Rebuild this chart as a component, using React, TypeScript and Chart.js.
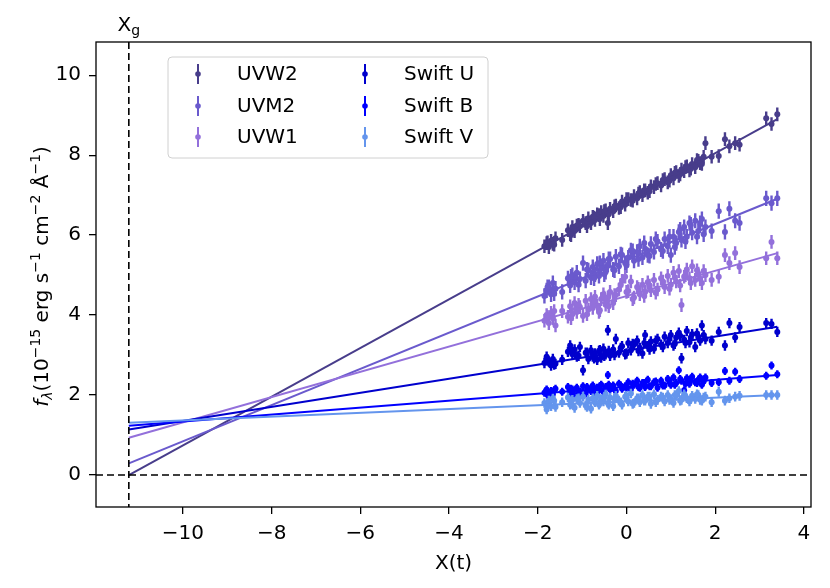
import React, { useEffect, useRef } from "react";
import { Chart, registerables } from "chart.js";

Chart.register(...registerables);

const FONT = "DejaVu Sans";

const bands = ["UVW2", "UVM2", "UVW1", "Swift U", "Swift B", "Swift V"];
const bandColors = ["#483D8B", "#6A5ACD", "#9370DB", "#0000CD", "#0000FF", "#6495ED"];

// observation epochs, X(t)
const xObs = [
  -1.85, -1.8, -1.75, -1.7, -1.66, -1.6, -1.45,
  -1.32, -1.27, -1.22, -1.17, -1.12, -1.05, -0.98, -0.92, -0.86, -0.8,
  -0.76, -0.71, -0.66, -0.62, -0.57, -0.52, -0.47, -0.42, -0.37, -0.3,
  -0.24, -0.17, -0.1, -0.03, 0.04, 0.1, 0.17, 0.24, 0.3, 0.36,
  0.42, 0.48, 0.55, 0.62, 0.7, 0.78, 0.86, 0.93, 1.0, 1.06,
  1.12, 1.18, 1.24, 1.3, 1.36, 1.42, 1.48, 1.55, 1.62, 1.7,
  1.78, 1.92, 2.08, 2.22, 2.32, 2.45, 2.55, 3.15, 3.27, 3.4,
];

const fluxW2 = [
  5.72, 5.8, 5.7, 5.86, 5.78, 5.92, 5.88,
  6.12, 6.02, 6.2, 6.1, 6.24, 6.22, 6.36, 6.3, 6.42, 6.3,
  6.46, 6.38, 6.52, 6.5, 6.58, 6.48, 6.62, 6.3, 6.66, 6.6,
  6.74, 6.68, 6.84, 6.76, 6.9, 6.88, 6.98, 6.92, 7.08, 7.0,
  7.12, 7.06, 7.22, 7.2, 7.3, 7.24, 7.4, 7.32, 7.5, 7.42,
  7.58, 7.48, 7.64, 7.6, 7.72, 7.62, 7.78, 7.7, 7.86, 7.78,
  8.3, 7.96, 7.98, 8.4, 8.22, 8.3, 8.26, 8.92, 8.78, 9.02,
];
const fluxM2 = [
  4.48, 4.62, 4.7, 4.52, 4.8, 4.66, 4.58,
  4.92, 4.74, 5.0, 4.82, 5.06, 4.9, 5.3, 4.86, 5.12, 4.94,
  5.2, 5.02, 5.28, 4.98, 5.18, 5.36, 5.08, 5.26, 5.4, 5.14,
  5.46, 5.22, 5.5, 5.3, 5.44, 5.62, 5.36, 5.58, 5.72, 5.44,
  5.66, 5.5, 5.78, 5.58, 5.84, 5.64, 5.9, 5.72, 5.5, 5.96,
  5.8, 6.08, 5.88, 6.2, 5.96, 6.3, 6.06, 6.36, 6.1, 6.4,
  6.2, 6.1, 6.6, 6.08, 6.66, 6.36, 6.3, 6.92, 6.8, 6.92,
];
const fluxW1 = [
  3.86, 4.0, 3.8, 4.06, 3.92, 3.74, 4.1,
  3.96, 4.22, 4.02, 4.3, 4.08, 4.2, 3.98, 4.36, 4.14, 4.4,
  4.18, 4.46, 4.24, 4.08, 4.4, 4.52, 4.26, 4.44, 4.58, 4.3,
  4.5, 4.64, 4.86, 4.96, 4.6, 4.84, 4.44, 4.7, 4.52, 4.76,
  4.58, 4.82, 4.62, 4.88, 4.64, 4.92, 4.7, 4.98, 4.76, 5.06,
  4.84, 5.1, 4.25, 4.96, 5.14, 4.92, 5.22, 4.88, 5.04, 4.8,
  5.0, 4.88, 4.96, 5.5, 5.3, 5.55, 5.2, 5.42, 5.83, 5.42,
];
const fluxU = [
  2.8, 2.96, 2.84, 2.74, 2.9, 2.78, 2.88,
  3.08, 3.24, 3.02, 3.14, 2.96, 3.2, 2.62, 3.06, 2.9, 3.12,
  2.96, 3.04, 2.88, 3.1, 2.94, 3.16, 3.02, 3.62, 2.98, 3.14,
  3.4, 3.06, 3.22, 3.02, 3.3, 3.12, 3.26, 3.36, 3.18, 3.04,
  3.5, 3.22, 3.34, 3.16, 3.4, 3.26, 3.46, 3.3, 3.5, 3.24,
  3.44, 3.56, 2.92, 3.38, 3.6, 3.32, 3.52, 3.2, 3.46, 3.74,
  3.4, 3.36, 3.58, 3.24, 3.8, 3.44, 3.7, 3.8, 3.78, 3.58,
];
const fluxB = [
  2.06, 2.14, 1.98, 2.1, 2.02, 2.16, 2.08,
  2.2, 2.04, 2.14, 2.0, 2.18, 2.08, 2.22, 2.04, 2.16, 2.1,
  2.24, 2.06, 2.18, 2.12, 2.26, 2.08, 2.2, 2.5, 2.14, 2.24,
  2.1, 2.28, 2.16, 2.22, 2.32, 2.14, 2.26, 2.36, 2.18, 2.3,
  2.2, 2.38, 2.22, 2.32, 2.18, 2.36, 2.24, 2.4, 2.26, 2.44,
  2.3, 2.62, 2.36, 2.12, 2.42, 2.28, 2.46, 2.32, 2.38, 2.26,
  2.44, 2.3, 2.32, 2.6, 2.36, 2.58, 2.4, 2.48, 2.74, 2.52,
];
const fluxV = [
  1.8, 1.64, 1.86, 1.72, 1.92, 1.7, 1.82,
  1.94, 1.76, 1.88, 1.68, 1.9, 1.8, 1.96, 1.74, 1.88, 1.66,
  1.92, 1.82, 1.98, 1.76, 1.9, 1.84, 2.02, 1.8, 1.94, 1.72,
  1.98, 1.86, 1.76, 1.96, 1.84, 2.04, 1.8, 1.92, 1.82, 2.0,
  1.86, 1.96, 1.78, 2.02, 1.88, 1.96, 1.84, 2.0, 1.9, 1.8,
  1.98, 2.1, 1.88, 2.02, 1.92, 1.84, 1.98, 1.9, 2.0, 1.86,
  1.96, 1.82, 2.08, 1.86, 1.92, 1.96, 1.98, 2.0, 2.0, 2.0,
];

// second batch of epochs inside the dense part of the light curve
const xObs2 = [
  -1.78, -1.63, -1.25, -1.08, -0.89, -0.73, -0.6, -0.5, -0.4, -0.27, -0.13, 0.0, 0.14,
  0.27, 0.4, 0.52, 0.66, 0.82, 0.97, 1.09, 1.21, 1.33, 1.45, 1.59, 1.66, 1.74,
];
const fluxW2b = [
  5.82, 5.76, 6.0, 6.26, 6.22, 6.44, 6.4, 6.6, 6.52, 6.72, 6.7, 6.9, 6.86,
  7.04, 7.12, 7.1, 7.28, 7.38, 7.36, 7.56, 7.52, 7.7, 7.66, 7.88, 7.8, 7.96,
];
const fluxM2b = [
  4.7, 4.54, 4.96, 4.76, 5.14, 4.92, 5.3, 5.02, 5.4, 5.12, 5.52, 5.24, 5.6,
  5.4, 5.8, 5.48, 5.9, 5.6, 5.96, 5.7, 6.14, 5.84, 6.26, 5.96, 6.3, 6.02,
];
const fluxW1b = [
  3.96, 4.1, 3.92, 4.26, 4.02, 4.34, 4.12, 4.44, 4.22, 4.5, 4.76, 4.58, 4.4,
  4.66, 4.48, 4.74, 4.56, 4.84, 4.66, 4.94, 4.74, 5.0, 4.8, 5.12, 4.9, 5.1,
];
const fluxUb = [
  2.86, 2.76, 3.14, 2.98, 3.06, 2.92, 3.12, 2.98, 3.1, 3.0, 3.18, 3.04, 3.28,
  3.1, 3.3, 3.14, 3.36, 3.2, 3.4, 3.28, 3.48, 3.3, 3.44, 3.54, 3.36, 3.5,
];
const fluxBb = [
  2.0, 2.12, 2.16, 2.04, 2.2, 2.1, 2.22, 2.12, 2.26, 2.14, 2.24, 2.18, 2.28,
  2.2, 2.3, 2.22, 2.34, 2.24, 2.36, 2.26, 2.4, 2.28, 2.4, 2.3, 2.44, 2.34,
];
const fluxVb = [
  1.72, 1.86, 1.78, 1.92, 1.7, 1.86, 1.8, 1.94, 1.76, 1.9, 1.82, 1.98, 1.78,
  1.92, 1.86, 1.96, 1.82, 1.94, 1.88, 2.0, 1.86, 1.96, 1.9, 2.02, 1.88, 1.94,
];

const bandFlux = [fluxW2, fluxM2, fluxW1, fluxU, fluxB, fluxV];
const bandFlux2 = [fluxW2b, fluxM2b, fluxW1b, fluxUb, fluxBb, fluxVb];
const bandErr = [0.17, 0.19, 0.17, 0.13, 0.1, 0.12];

// linear fits, from X_g to the last epoch
const xg = -11.22;
const fitEndX = 3.4;
const fitAtXg = [0.0, 0.29, 0.93, 1.14, 1.23, 1.31];
const fitAtEnd = [8.9, 6.91, 5.55, 3.71, 2.5, 2.0];

const xTicks = [-10, -8, -6, -4, -2, 0, 2, 4];
const yTicks = [0, 2, 4, 6, 8, 10];
const xRange = [-11.96, 4.16];
const yRange = [-0.8, 10.83];

const fmt = (v: number) => String(v).replace("-", "\u2212");

const errorBars = {
  id: "errorBars",
  beforeDatasetDraw(chart: any, args: any) {
    const ds = chart.data.datasets[args.index];
    if (ds.errY === undefined) return;
    const { ctx, scales } = chart;
    ctx.save();
    ctx.strokeStyle = ds.borderColor;
    ctx.lineWidth = 2.4;
    ctx.beginPath();
    ds.data.forEach((p: any) => {
      const px = scales.x.getPixelForValue(p.x);
      ctx.moveTo(px, scales.y.getPixelForValue(p.y - ds.errY));
      ctx.lineTo(px, scales.y.getPixelForValue(p.y + ds.errY));
    });
    ctx.stroke();
    ctx.restore();
  },
};

const refLines = {
  id: "refLines",
  afterDatasetsDraw(chart: any) {
    const { ctx, chartArea: a, scales } = chart;
    ctx.save();
    ctx.strokeStyle = "#000";
    ctx.lineWidth = 1.6;
    ctx.setLineDash([7, 4]);
    const px = scales.x.getPixelForValue(xg);
    const py = scales.y.getPixelForValue(0);
    ctx.beginPath();
    ctx.moveTo(px, a.top);
    ctx.lineTo(px, a.bottom);
    ctx.moveTo(a.left, py);
    ctx.lineTo(a.right, py);
    ctx.stroke();
    ctx.restore();
  },
};

type Seg = { t: string; size: number; dy: number; italic?: boolean };

function drawRich(ctx: CanvasRenderingContext2D, segs: Seg[], cx: number, baseY: number) {
  const font = (s: Seg) => `${s.italic ? "oblique " : ""}${s.size}px "${FONT}"`;
  let total = 0;
  segs.forEach((s) => {
    ctx.font = font(s);
    total += ctx.measureText(s.t).width;
  });
  let x = cx - total / 2;
  ctx.textBaseline = "alphabetic";
  ctx.textAlign = "left";
  segs.forEach((s) => {
    ctx.font = font(s);
    ctx.fillText(s.t, x, baseY + s.dy);
    x += ctx.measureText(s.t).width;
  });
}

const decorations = {
  id: "decorations",
  afterDraw(chart: any) {
    const { ctx, chartArea: a, scales } = chart;
    ctx.save();
    // frame
    ctx.strokeStyle = "#000";
    ctx.lineWidth = 1.3;
    ctx.strokeRect(a.left, a.top, a.right - a.left, a.bottom - a.top);
    ctx.fillStyle = "#000";

    // X_g label above the dashed line
    drawRich(
      ctx,
      [
        { t: "X", size: 20, dy: 0 },
        { t: "g", size: 14, dy: 4 },
      ],
      scales.x.getPixelForValue(xg),
      31
    );

    // x axis title
    drawRich(ctx, [{ t: "X(t)", size: 20, dy: 0 }], (a.left + a.right) / 2, 569);

    // y axis title
    ctx.save();
    ctx.translate(48, (a.top + a.bottom) / 2 + 2);
    ctx.rotate(-Math.PI / 2);
    drawRich(
      ctx,
      [
        { t: "f", size: 20, dy: 0, italic: true },
        { t: "\u03bb", size: 14, dy: 4, italic: true },
        { t: "(10", size: 20, dy: 0 },
        { t: "\u221215", size: 14, dy: -8 },
        { t: " erg s", size: 20, dy: 0 },
        { t: "\u22121", size: 14, dy: -8 },
        { t: " cm", size: 20, dy: 0 },
        { t: "\u22122", size: 14, dy: -8 },
        { t: " \u00c5", size: 20, dy: 0 },
        { t: "\u22121", size: 14, dy: -8 },
        { t: ")", size: 20, dy: 0 },
      ],
      0,
      0
    );
    ctx.restore();

    // legend
    const bx = 168, by = 57, bw = 320, bh = 101;
    ctx.beginPath();
    ctx.roundRect(bx, by, bw, bh, 4);
    ctx.fillStyle = "rgba(255,255,255,0.8)";
    ctx.fill();
    ctx.strokeStyle = "#d0d0d0";
    ctx.lineWidth = 1;
    ctx.stroke();
    const markX = [198, 365];
    const textX = [237, 404];
    const rowY = [74, 106, 137];
    bands.forEach((name, i) => {
      const col = Math.floor(i / 3);
      const row = i % 3;
      const mx = markX[col];
      const my = rowY[row];
      ctx.strokeStyle = bandColors[i];
      ctx.lineWidth = 2;
      ctx.beginPath();
      ctx.moveTo(mx, my - 10);
      ctx.lineTo(mx, my + 10);
      ctx.stroke();
      ctx.fillStyle = bandColors[i];
      ctx.beginPath();
      ctx.arc(mx, my, 2.8, 0, Math.PI * 2);
      ctx.fill();
      ctx.fillStyle = "#000";
      ctx.font = `20px "${FONT}"`;
      ctx.textAlign = "left";
      ctx.textBaseline = "middle";
      ctx.fillText(name, textX[col], my + 1);
    });
    ctx.restore();
  },
};

export default function App() {
  const ref = useRef<HTMLCanvasElement>(null);

  useEffect(() => {
    document.body.style.margin = "0";
    const pointSets = bands.map((name, i) => ({
      label: name,
      data: [
        ...xObs.map((x, k) => ({ x, y: bandFlux[i][k] })),
        ...xObs2.map((x, k) => ({ x, y: bandFlux2[i][k] })),
      ],
      errY: bandErr[i],
      borderColor: bandColors[i],
      backgroundColor: bandColors[i],
      pointRadius: 3,
      pointBorderWidth: 0,
      showLine: false,
      order: 20 - i,
    }));
    const fitSets = bands.map((name, i) => ({
      label: name + " fit",
      data: [
        { x: xg, y: fitAtXg[i] },
        { x: fitEndX, y: fitAtEnd[i] },
      ],
      borderColor: bandColors[i],
      backgroundColor: bandColors[i],
      borderWidth: 2,
      pointRadius: 0,
      showLine: true,
      fill: false,
      order: 10 - i,
    }));

    const tickFont = { family: FONT, size: 20 };
    const chart = new Chart(ref.current!, {
      type: "scatter",
      data: { datasets: [...pointSets, ...fitSets] as any },
      plugins: [errorBars, refLines, decorations],
      options: {
        animation: false,
        responsive: false,
        events: [],
        layout: { padding: { left: 0, top: 42, right: 19, bottom: 0 } },
        plugins: { legend: { display: false }, tooltip: { enabled: false } },
        scales: {
          x: {
            type: "linear",
            min: xRange[0],
            max: xRange[1],
            afterBuildTicks: (s: any) => {
              s.ticks = xTicks.map((v) => ({ value: v }));
            },
            afterFit: (s: any) => {
              s.height = 81;
            },
            border: { display: false },
            grid: { drawOnChartArea: false, drawTicks: true, tickLength: 7, color: "#000", lineWidth: 1.3 },
            ticks: { font: tickFont, color: "#000", padding: 8, maxRotation: 0, callback: (v: any) => fmt(v) },
          },
          y: {
            type: "linear",
            min: yRange[0],
            max: yRange[1],
            afterBuildTicks: (s: any) => {
              s.ticks = yTicks.map((v) => ({ value: v }));
            },
            afterFit: (s: any) => {
              s.width = 96;
            },
            border: { display: false },
            grid: { drawOnChartArea: false, drawTicks: true, tickLength: 7, color: "#000", lineWidth: 1.3 },
            ticks: { font: tickFont, color: "#000", padding: 8, callback: (v: any) => fmt(v) },
          },
        },
      } as any,
    });
    return () => chart.destroy();
  }, []);

  return (
    <div style={{ width: 830, height: 588, background: "#fff" }}>
      <canvas ref={ref} width={830} height={588} style={{ width: 830, height: 588 }} />
    </div>
  );
}
